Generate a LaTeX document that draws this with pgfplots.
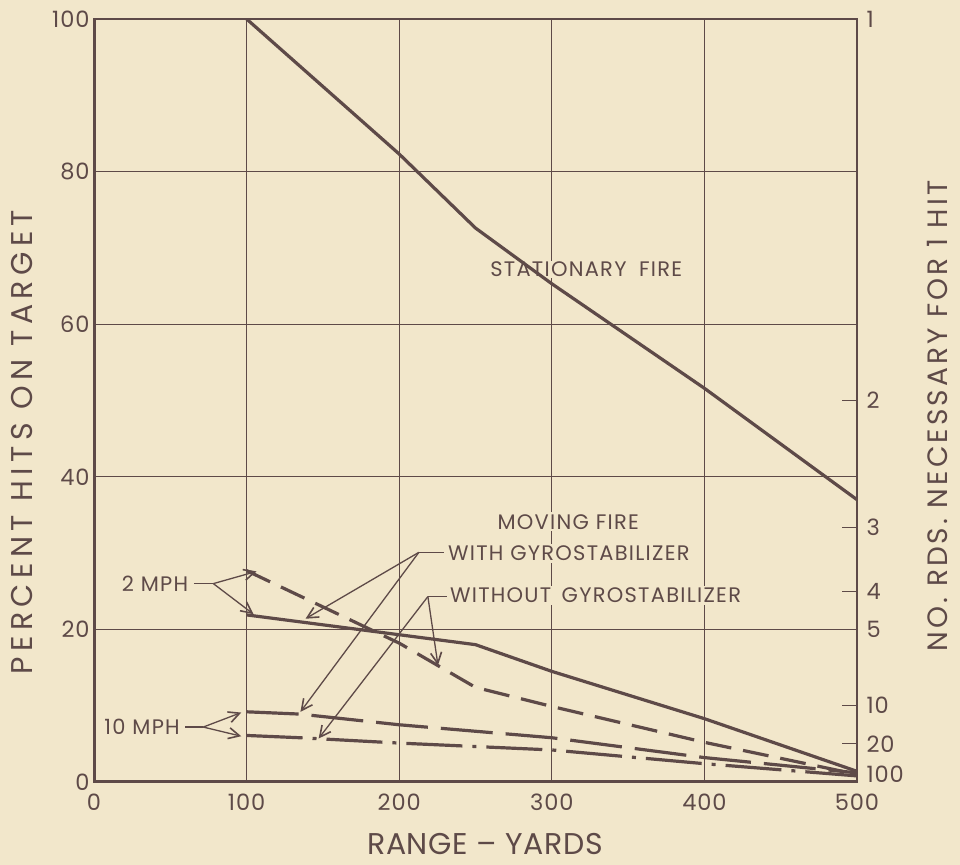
\documentclass[border=0pt]{standalone}
\usepackage{fontspec}
\setmainfont{Poppins}
\newfontfamily\tickfont{Poppins}[LetterSpace=4]
\newfontfamily\notefont{Poppins}[LetterSpace=6]
\newfontfamily\xlabfont{Poppins}[LetterSpace=2]
\newfontfamily\ylabfont{Poppins}[LetterSpace=18]
\newfontfamily\rlabfont{Poppins}[LetterSpace=11]
\usepackage{pgfplots}
\pgfplotsset{compat=1.18}
\usetikzlibrary{arrows.meta}

\definecolor{paper}{RGB}{242,231,203}
\definecolor{ink}{RGB}{94,74,72}

\newcommand{\ticksize}{\tickfont\fontsize{22.5bp}{26bp}\selectfont}
\newcommand{\notesize}{\notefont\fontsize{21bp}{24bp}\selectfont}
\newcommand{\labelsize}{\fontsize{30bp}{34bp}\selectfont}

\pgfplotsset{
  chartframe/.style={
    at={(0,0)}, anchor=south west,
    scale only axis, width=763bp, height=763bp,
    xmin=0, xmax=500, ymin=0, ymax=100,
    /pgf/number format/assume math mode=true,
    tick label style={font=\ticksize, text=ink},
  },
  curve/.style={ink, line width=3.2bp, line join=round},
}

\begin{document}
\begin{tikzpicture}[x=1bp, y=1bp]
\fill[paper] (-94,-83) rectangle (866,782);

% left scale: percent hits
\begin{axis}[chartframe,
  xtick={0,100,...,500}, ytick={0,20,...,100},
  grid=major, major grid style={ink, line width=1.3bp},
  major tick length=0pt,
  axis line style={ink, line width=1.8bp},
  xticklabel style={yshift=-8bp},
  yticklabel style={xshift=-1bp},
]
% annotations (set first so that the curves run over their boxes)
\node[font=\notesize, text=ink, fill=paper, inner sep=1bp] at (axis cs:322.6,67.2) {STATIONARY\hspace{0.6em}FIRE};
\node[font=\notesize, text=ink, fill=paper, inner sep=2bp] at (axis cs:310.8,34.1) {MOVING FIRE};
\node[font=\notesize, text=ink, fill=paper, inner sep=2bp, anchor=west] at (axis cs:230.6,30.0) {WITH GYROSTABILIZER};
\node[font=\notesize, text=ink, fill=paper, inner sep=2bp, anchor=west] at (axis cs:231.9,24.5) {WITHOUT\hspace{0.5em}GYROSTABILIZER};
\node[font=\notesize, text=ink, anchor=east, inner sep=1bp] at (axis cs:62.5,26.0) {2 MPH};
\node[font=\notesize, text=ink, anchor=east, inner sep=1bp] at (axis cs:57,7.2) {10 MPH};

% stationary fire
\addplot[curve] coordinates {(100,100) (200,82.3) (250,72.6) (300,65.3) (400,51.6) (500,37.0)};
% 2 mph, with gyrostabilizer
\addplot[curve] coordinates {(100,21.9) (200,19.3) (250,18.0) (300,14.5) (400,8.3) (500,1.4)};
% 2 mph, without gyrostabilizer
\addplot[curve, dash pattern=on 26bp off 12bp] coordinates {(100,27.7) (200,18.2) (250,12.4) (300,9.9) (400,5.2) (500,1.0)};
% 10 mph, with gyrostabilizer
\addplot[curve, dash pattern=on 52bp off 13bp] coordinates {(100,9.2) (135,8.9) (200,7.5) (300,5.8) (400,3.2) (500,1.2)};
% 10 mph, without gyrostabilizer
\addplot[curve, dash pattern=on 56bp off 10bp on 4bp off 10bp] coordinates {(100,6.1) (135,5.8) (200,5.1) (300,4.2) (400,2.4) (500,0.8)};

% heavy left and bottom frame
\draw[ink, line width=4bp, line cap=rect] (rel axis cs:0,1) -- (rel axis cs:0,0) -- (rel axis cs:1,0);

\tikzset{leader/.style={ink, line width=1.3bp}, tip/.style={-{Straight Barb[length=11bp, width=11bp, line width=1.6bp]}}}
% 2 mph leaders
\draw[leader] (axis cs:65.5,26.0) -- (axis cs:78.2,26.0);
\draw[leader, tip] (axis cs:78.2,26.0) -- (axis cs:106.5,27.6);
\draw[leader, tip] (axis cs:78.2,26.0) -- (axis cs:104.5,22.0);
% 10 mph leaders
\draw[leader] (axis cs:59.8,7.2) -- (axis cs:71.6,7.2);
\draw[leader, tip] (axis cs:71.6,7.2) -- (axis cs:96.5,9.1);
\draw[leader, tip] (axis cs:71.6,7.2) -- (axis cs:96.5,6.0);
% with gyrostabilizer leaders
\draw[leader] (axis cs:212.9,30.1) -- (axis cs:229.5,30.1);
\draw[leader, tip] (axis cs:212.9,30.1) -- (axis cs:138.6,21.4);
\draw[leader, tip] (axis cs:212.9,30.1) -- (axis cs:135.3,9.2);
% without gyrostabilizer leaders
\draw[leader] (axis cs:218.8,24.3) -- (axis cs:231,24.3);
\draw[leader, tip] (axis cs:218.8,24.3) -- (axis cs:225.4,15.3);
\draw[leader, tip] (axis cs:218.8,24.3) -- (axis cs:147.2,5.7);
\end{axis}

% right scale: rounds necessary for one hit (1/percent)
\begin{axis}[chartframe,
  axis x line=none, axis y line*=right,
  ytick={1,5,10,20,25,33.333,50,100},
  yticklabels={100,20,10,5,4,3,2,1},
  tick align=inside, major tick length=15bp,
  major tick style={ink, line width=1.3bp},
  axis line style={ink, line width=1.8bp},
  yticklabel style={anchor=west, xshift=6bp},
]
\end{axis}

% axis titles
\node[font=\xlabfont\labelsize, text=ink] at (391,-62) {RANGE – YARDS};
\node[font=\ylabfont\labelsize, text=ink, rotate=90] at (-72,340) {PERCENT HITS ON TARGET};
\node[font=\rlabfont\fontsize{28bp}{32bp}\selectfont, text=ink, rotate=90] at (843,366) {NO. RDS. NECESSARY FOR 1 HIT};

\pgfresetboundingbox
\path[use as bounding box] (-94,-83) rectangle (866,782);
\end{tikzpicture}
\end{document}
